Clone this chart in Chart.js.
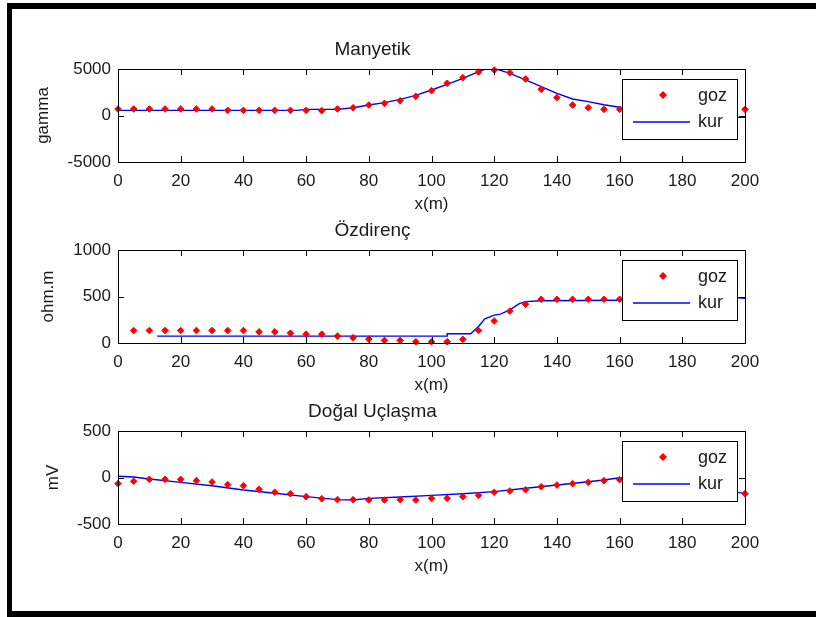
<!DOCTYPE html>
<html>
<head>
<meta charset="utf-8">
<script src="https://cdn.jsdelivr.net/npm/chart.js@4.4.0/dist/chart.umd.min.js"></script>
<style>
body{margin:0;background:#fff;width:816px;height:617px;position:relative;overflow:hidden}
canvas{position:absolute;left:0}
.bar{position:absolute;background:#000}
</style>
</head>
<body>
<div class="bar" style="left:7px;top:3px;width:809px;height:6px"></div>
<div class="bar" style="left:7px;top:3px;width:5px;height:614px"></div>
<div class="bar" style="left:7px;top:611px;width:809px;height:6px"></div>
<canvas id="c1" width="816" height="181" style="top:34px"></canvas>
<canvas id="c2" width="816" height="181" style="top:215px"></canvas>
<canvas id="c3" width="816" height="181" style="top:396px"></canvas>
<script>
// ---- veriler ----
var seriesNames = ['goz', 'kur'];
var xTicks = [0, 20, 40, 60, 80, 100, 120, 140, 160, 180, 200];

// Manyetik
var manX = [0,5,10,15,20,25,30,35,40,45,50,55,60,65,70,75,80,85,90,95,100,105,110,115,120,125,130,135,140,145,150,155,160,165,170,175,180,185,190,195,200];
var manGoz = [700,700,700,700,700,700,700,555,555,555,555,555,555,520,700,840,1130,1310,1595,2060,2670,3460,4070,4680,4890,4600,3920,2810,1920,1130,840,660,660,620,600,600,600,600,620,640,660];
var manKurX = [0,10,20,30,40,50,57,60,70,75,80,85,90,95,100,105,110,115,117,121,125,130,135,140,145,150,155,160,170,180,190,197,200];
var manKurY = [555,555,555,555,555,555,555,660,660,840,1130,1380,1740,2170,2740,3350,4000,4710,4960,4960,4530,3820,3100,2380,1775,1490,1150,880,500,200,0,-200,-200];
var manYTicks = [-5000, 0, 5000];

// Özdirenç
var ozX = [5,10,15,20,25,30,35,40,45,50,55,60,65,70,75,80,85,90,95,100,105,110,115,120,125,130,135,140,145,150,155,160,165,170,175,180,185,190,195];
var ozGoz = [134,134,134,134,134,134,134,134,120,120,106,95,95,74,57,42,28,28,14,14,14,39,134,237,343,417,470,470,470,470,470,470,470,470,470,470,470,470,470];
var ozKurX = [12.5,105,105,112.5,115,117,120,122,125,128,130,135,160,180,197,200];
var ozKurY = [74,74,99,99,177,261,300,311,357,424,445,455,460,470,490,480];
var ozYTicks = [0, 500, 1000];

// Doğal Uçlaşma
var duX = [0,5,10,15,20,25,30,35,40,45,50,55,60,65,70,75,80,85,90,95,100,105,110,115,120,125,130,135,140,145,150,155,160,165,170,175,180,185,190,195,200];
var duGoz = [-66,-41,-20,-20,-20,-34,-48,-77,-88,-127,-159,-174,-206,-228,-238,-238,-242,-242,-238,-242,-224,-224,-206,-192,-159,-145,-131,-99,-81,-66,-52,-34,-23,-40,-60,-80,-100,-120,-140,-160,-174];
var duKurX = [0,5,10,20,30,40,50,60,70,75,80,90,100,110,120,130,140,150,155,160,170,180,190,197,200];
var duKurY = [13,5,-16,-52,-88,-134,-170,-206,-238,-242,-224,-210,-192,-174,-152,-116,-81,-45,-27,-2,-40,-80,-120,-160,-171];
var duYTicks = [-500, 0, 500];

var FONT = "'Liberation Sans', Arial, sans-serif";
var TXT = '#1a1a1a';

function pts(xs, ys) {
    var out = [];
    for (var i = 0; i < xs.length; i++) out.push({x: xs[i], y: ys[i]});
    return out;
}

// çerçeve, iç tikler ve lejant (matlab görünümü)
var matlabBox = {
    id: 'matlabBox',
    afterDraw: function(chart) {
        var ctx = chart.ctx, a = chart.chartArea;
        var sx = chart.scales.x, sy = chart.scales.y;
        ctx.save();
        ctx.strokeStyle = '#000';
        ctx.lineWidth = 1;
        ctx.beginPath();
        sx.ticks.forEach(function(t) {
            var px = Math.round(sx.getPixelForValue(t.value)) + 0.5;
            ctx.moveTo(px, a.top); ctx.lineTo(px, a.top + 6);
            ctx.moveTo(px, a.bottom); ctx.lineTo(px, a.bottom - 6);
        });
        sy.ticks.forEach(function(t) {
            var py = Math.round(sy.getPixelForValue(t.value)) + 0.5;
            ctx.moveTo(a.left, py); ctx.lineTo(a.left + 6, py);
            ctx.moveTo(a.right, py); ctx.lineTo(a.right - 6, py);
        });
        ctx.stroke();
        ctx.strokeRect(a.left + 0.5, a.top + 0.5, a.right - a.left, a.bottom - a.top);

        // lejant
        var bw = 115, bh = 60;
        var bx = a.right - 8 - bw, by = a.top + 10;
        ctx.fillStyle = '#fff';
        ctx.fillRect(bx, by, bw, bh);
        ctx.strokeRect(bx + 0.5, by + 0.5, bw, bh);
        ctx.fillStyle = '#ff0000';
        ctx.beginPath();
        ctx.moveTo(bx + 41, by + 12); ctx.lineTo(bx + 45, by + 16); ctx.lineTo(bx + 41, by + 20); ctx.lineTo(bx + 37, by + 16);
        ctx.closePath(); ctx.fill();
        ctx.strokeStyle = '#0000ff';
        ctx.lineWidth = 1.5;
        ctx.beginPath();
        ctx.moveTo(bx + 11, by + 43); ctx.lineTo(bx + 68, by + 43);
        ctx.stroke();
        ctx.fillStyle = TXT;
        ctx.font = '18px ' + FONT;
        ctx.textBaseline = 'middle';
        ctx.fillText(seriesNames[0], bx + 76, by + 17);
        ctx.fillText(seriesNames[1], bx + 76, by + 43);
        ctx.restore();
    }
};

function makePlot(id, title, yLabel, yPad, yTicks, gozX, gozY, kurX, kurY) {
    var ctx = document.getElementById(id).getContext('2d');
    return new Chart(ctx, {
        type: 'scatter',
        data: {
            datasets: [{
                label: seriesNames[0],
                data: pts(gozX, gozY),
                showLine: false,
                pointStyle: 'rectRot',
                pointRadius: 3.3,
                pointBorderWidth: 1,
                backgroundColor: '#ff0000',
                borderColor: '#ff0000',
                clip: false
            }, {
                label: seriesNames[1],
                data: pts(kurX, kurY),
                showLine: true,
                pointRadius: 0,
                borderColor: '#0000ff',
                borderWidth: 1.4,
                tension: 0
            }]
        },
        options: {
            responsive: false,
            animation: false,
            devicePixelRatio: 1,
            layout: {padding: {left: 0, right: 71, top: 0, bottom: 0}},
            plugins: {
                legend: {display: false},
                tooltip: {enabled: false},
                title: {
                    display: true,
                    text: title,
                    color: TXT,
                    font: {family: FONT, size: 19, weight: 'normal', lineHeight: 1},
                    padding: {top: 6, bottom: 10}
                }
            },
            scales: {
                x: {
                    type: 'linear',
                    min: 0, max: 200,
                    grid: {display: false, drawTicks: false},
                    border: {display: false},
                    afterBuildTicks: function(s) { s.ticks = xTicks.map(function(v) { return {value: v}; }); },
                    afterFit: function(s) { s.height = 53; },
                    ticks: {
                        autoSkip: false, maxRotation: 0, padding: 9, color: TXT,
                        font: {family: FONT, size: 17},
                        callback: function(v) { return String(v); }
                    },
                    title: {
                        display: true, text: 'x(m)', color: TXT,
                        font: {family: FONT, size: 17, lineHeight: 1},
                        padding: {top: 0, bottom: 2}
                    }
                },
                y: {
                    min: yTicks[0], max: yTicks[yTicks.length - 1],
                    grid: {display: false, drawTicks: false},
                    border: {display: false},
                    afterBuildTicks: function(s) { s.ticks = yTicks.map(function(v) { return {value: v}; }); },
                    afterFit: function(s) { s.width = 118; },
                    ticks: {
                        padding: 7, color: TXT,
                        font: {family: FONT, size: 17},
                        callback: function(v) { return String(v); }
                    },
                    title: {
                        display: true, text: yLabel, color: TXT,
                        font: {family: FONT, size: 17, lineHeight: 1},
                        padding: {top: yPad, bottom: 0}
                    }
                }
            }
        },
        plugins: [matlabBox]
    });
}

makePlot('c1', 'Manyetik', 'gamma', 35, manYTicks, manX, manGoz, manKurX, manKurY);
makePlot('c2', 'Özdirenç', 'ohm.m', 40, ozYTicks, ozX, ozGoz, ozKurX, ozKurY);
makePlot('c3', 'Doğal Uçlaşma', 'mV', 45, duYTicks, duX, duGoz, duKurX, duKurY);
</script>
</body>
</html>
